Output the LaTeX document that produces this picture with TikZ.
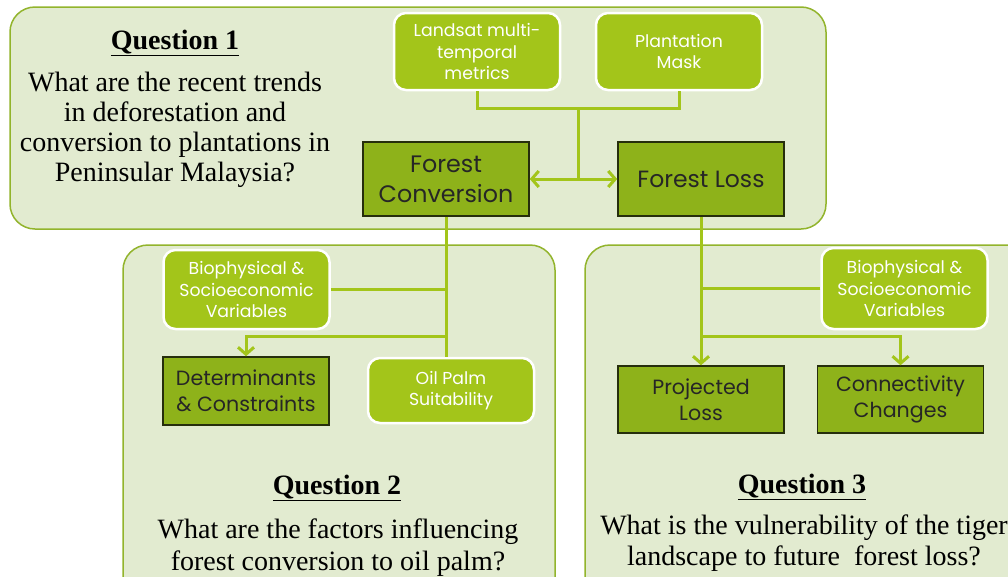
\documentclass[tikz,border=0pt]{standalone}
\usepackage{fontspec}
\setmainfont{Liberation Serif}
\setsansfont{Poppins}
\usetikzlibrary{arrows.meta}
\definecolor{panelFill}{RGB}{226,235,208}
\definecolor{panelEdge}{RGB}{146,180,44}
\definecolor{leafGreen}{RGB}{163,197,26}
\definecolor{mossGreen}{RGB}{142,178,26}
\definecolor{mossEdge}{RGB}{38,46,12}
\newcommand{\QuestionHead}[1]{\underline{\textbf{#1}}}

\tikzset{
    panel/.style={draw=panelEdge, line width=1.5pt, fill=panelFill, rounded corners=25pt},
    inputbox/.style={
        draw=white, line width=2.5pt, fill=leafGreen, rounded corners=12pt,
        text=white, align=center, inner sep=0pt, minimum width=166pt,
        font=\sffamily\fontsize{17.3}{21.5}\selectfont
    },
    resultbox/.style={
        draw=mossEdge, line width=1.5pt, fill=mossGreen,
        text=black!85, align=center, inner sep=0pt, minimum width=166pt,
        font=\sffamily\fontsize{20.6}{26}\selectfont
    },
    qhead/.style={font=\fontsize{28}{30}\selectfont, inner sep=0pt},
    qtext/.style={font=\fontsize{28}{30}\selectfont, align=center, inner sep=0pt},
    link/.style={draw=leafGreen, line width=3pt},
    linkarrow/.style={link, -{Straight Barb[length=7pt,width=16pt]}}
}

\begin{document}
\begin{tikzpicture}[x=1pt, y=-1pt]
\clip (0,0) rectangle (1008,576);
\fill[white] (0,0) rectangle (1008,576);

% the three question panels
\path[panel] (10,7) rectangle (826,229);
\path[panel] (123,245) rectangle (555,620);
\path[panel] (585,245) rectangle (1050,620);

% question 1
\node[qhead] (q1head) at (175,43) {\QuestionHead{Question 1}};
\node[qtext] (q1text) at (175,129.5) {What are the recent trends\\ in deforestation and\\ conversion to plantations in\\ Peninsular Malaysia?};

\node[inputbox, minimum height=77pt] (landsat) at (477,51.5) {Landsat multi-\\temporal\\metrics};
\node[inputbox, minimum height=77pt] (plantmask) at (679,51.5) {Plantation\\Mask};
\node[resultbox, minimum height=74pt, font=\sffamily\fontsize{23.8}{30}\selectfont] (fconv) at (446,179) {Forest\\Conversion};
\node[resultbox, minimum height=74pt, font=\sffamily\fontsize{23.5}{30}\selectfont] (floss) at (701,179) {Forest Loss};

\coordinate (joinTop) at (578,108);
\draw[link] (landsat.south) |- (joinTop) -| (plantmask.south);
\draw[link] (joinTop) -- (joinTop |- fconv.east);
\draw[link, {Straight Barb[length=7pt,width=16pt]}-{Straight Barb[length=7pt,width=16pt]}] (fconv.east) -- (floss.west);

% question 2
\node[inputbox, minimum height=79pt] (bioA) at (246.5,289.5) {Biophysical \&\\Socioeconomic\\Variables};
\node[resultbox, minimum height=68pt] (determ) at (246,391) {Determinants\\\& Constraints};
\node[inputbox, minimum height=65pt] (oilpalm) at (451,390.5) {Oil Palm\\Suitability};

\coordinate (joinA) at (446,336);
\draw[link] (fconv.south) -- (fconv.south |- oilpalm.north);
\draw[link] (bioA.east) -- (bioA.east -| fconv.south);
\draw[linkarrow] (joinA) -| (determ.north);

\node[qhead] (q2head) at (337,488) {\QuestionHead{Question 2}};
\node[qtext, font=\fontsize{28}{32}\selectfont] (q2text) at (338,547.5) {What are the factors influencing\\ forest conversion to oil palm?};

% question 3
\node[inputbox, minimum height=81pt] (bioB) at (904.5,288.5) {Biophysical \&\\Socioeconomic\\Variables};
\node[resultbox, minimum height=67pt] (projloss) at (701,399.5) {Projected\\Loss};
\node[resultbox, minimum height=67pt] (connect) at (900.5,399.5) {Connectivity\\Changes};

\coordinate (joinB) at (701,336);
\draw[linkarrow] (floss.south) -- (projloss.north);
\draw[link] (bioB.west) -- (bioB.west -| floss.south);
\draw[linkarrow] (joinB) -| (connect.north);

\node[qhead] (q3head) at (802,487) {\QuestionHead{Question 3}};
\node[qtext, font=\fontsize{28}{31}\selectfont] (q3text) at (804,543.5) {What is the vulnerability of the tiger\\ landscape to future\ \ forest loss?};
\end{tikzpicture}
\end{document}
